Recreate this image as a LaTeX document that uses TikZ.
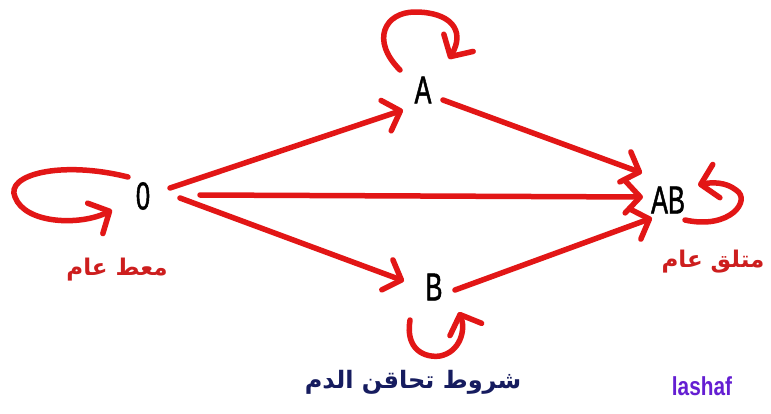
\documentclass[tikz,border=0pt]{standalone}
\usepackage{fontspec}
\usetikzlibrary{arrows.meta}
\TeXXeTstate=1
\newfontfamily\arab[Script=Arabic]{DejaVu Sans}
\newfontfamily\narrowfont[FakeStretch=0.65,FakeBold=1.2]{Liberation Sans}
\newfontfamily\lashaffont[FakeStretch=0.8]{Liberation Sans Bold}
\definecolor{arrred}{RGB}{226,22,22}
\definecolor{lblred}{RGB}{205,30,30}
\definecolor{navy}{RGB}{22,28,95}
\definecolor{purp}{RGB}{100,30,210}
\tikzset{
  state/.style={inner sep=2pt, font=\narrowfont\fontsize{39}{40}\selectfont, text=black},
  arr/.style={draw=arrred, line width=5.5pt, line cap=round, line join=round,
    -{Straight Barb[length=15pt,width=32pt,line cap=round,line join=round]}},
  loop/.style={draw=arrred, line width=5.5pt, line cap=round, line join=round,
    -{Straight Barb[length=16pt,width=34pt,line cap=round,line join=round]}},
  arlabel/.style={font=\arab\bfseries\fontsize{23}{26}\selectfont, text=lblred},
}
\begin{document}
\begin{tikzpicture}[x=1pt,y=-1pt]
\useasboundingbox (0,0) rectangle (771,413);
\fill[white] (0,0) rectangle (771,413);
% states
\node[state] (O) at (143,196) {0};
\node[state] (A) at (423,90) {A};
\node[state] (B) at (434,287) {B};
\node[state] (AB) at (668,200) {AB};
% transitions
\draw[arr] ([shift={(27,-8)}]O.center) -- ([shift={(-20,20)}]A.center);
\draw[arr] ([shift={(57,-1)}]O.center) -- ([shift={(-25,-3)}]AB.center);
\draw[arr] ([shift={(37,2)}]O.center) -- ([shift={(-30,-6)}]B.center);
\draw[arr] ([shift={(20,10)}]A.center) -- ([shift={(-26,-27)}]AB.center);
\draw[arr] ([shift={(21,3)}]B.center) -- ([shift={(-16,18)}]AB.center);
% self loops
\draw[loop] ([shift={(-15,-19)}]O.center) .. controls (60,160) and (5,175) .. (15,197)
   .. controls (25,224) and (80,226) .. ([shift={(-31,14)}]O.center);
\draw[loop] ([shift={(-23,-20)}]A.center) .. controls (370,40) and (385,12) .. (415,12)
   .. controls (450,12) and (466,30) .. ([shift={(26,-31)}]A.center);
\draw[loop] ([shift={(-24,33)}]B.center) .. controls (405,350) and (425,358) .. (440,356)
   .. controls (460,352) and (466,330) .. ([shift={(25,25)}]B.center);
\draw[loop] ([shift={(17,20)}]AB.center) .. controls (730,230) and (752,200) .. (736,190)
   .. controls (726,182) and (712,182) .. ([shift={(30,-15)}]AB.center);
% labels
\node[arlabel] (lin) at (117,270) {\beginR معط عام\endR};
\node[arlabel] (lout) at (713,262) {\beginR متلق عام\endR};
\node[font=\arab\bfseries\fontsize{24}{28}\selectfont, text=navy] (title) at (413,382) {\beginR شروط تحاقن الدم\endR};
\node[font=\lashaffont\fontsize{26}{28}\selectfont, text=purp] (sig) at (702,386) {lashaf};
\end{tikzpicture}
\end{document}
